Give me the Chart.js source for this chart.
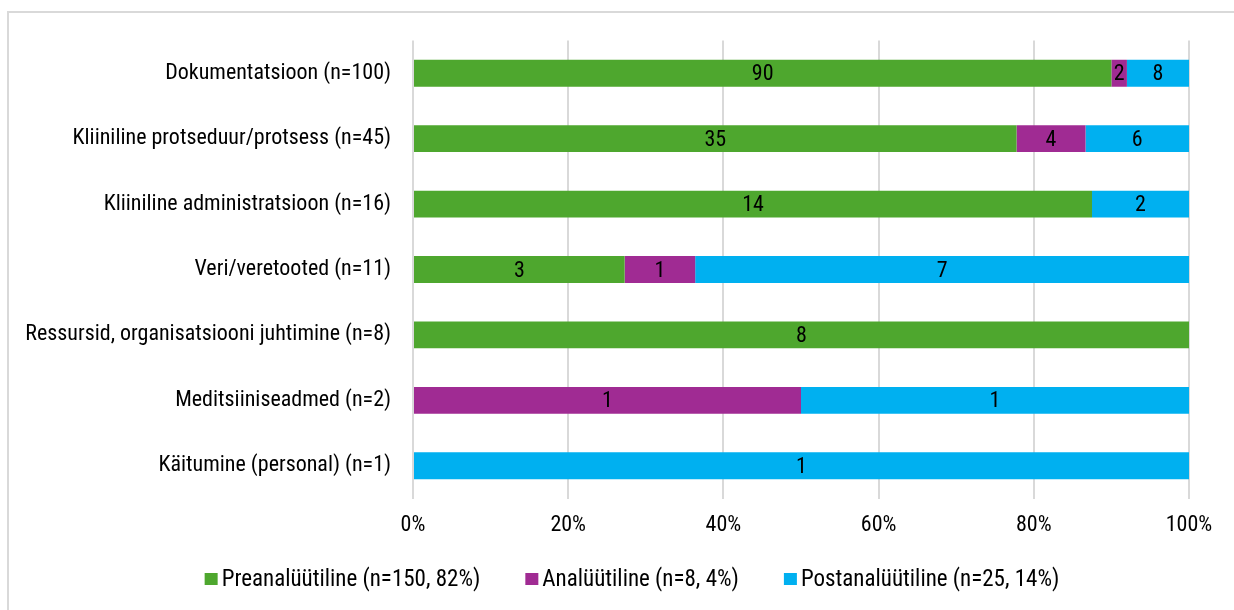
<!DOCTYPE html>
<html>
<head>
<meta charset="utf-8">
<script src="https://cdn.jsdelivr.net/npm/chart.js@4"></script>
<style>
  html, body { margin: 0; padding: 0; background: #fff; overflow: hidden; }
  #frame { position: absolute; left: 7px; top: 11px; width: 1300px; height: 700px; border: 2px solid #d9d9d9; box-sizing: border-box; }
  #wrap { position: absolute; left: 0; top: 0; width: 1234px; height: 610px; }
</style>
</head>
<body>
<div id="frame"></div>
<div id="wrap"><canvas id="c" width="1234" height="610"></canvas></div>
<script>
const categories = [
  'Dokumentatsioon (n=100)',
  'Kliiniline protseduur/protsess (n=45)',
  'Kliiniline administratsioon (n=16)',
  'Veri/veretooted (n=11)',
  'Ressursid, organisatsiooni juhtimine (n=8)',
  'Meditsiiniseadmed (n=2)',
  'Käitumine (personal) (n=1)'
];
const preanalytic  = [90, 35, 14, 3, 8, 0, 0];
const analytic     = [2, 4, 0, 1, 0, 1, 0];
const postanalytic = [8, 6, 2, 7, 0, 1, 1];
const seriesNames = [
  'Preanalüütiline (n=150, 82%)',
  'Analüütiline (n=8, 4%)',
  'Postanalüütiline (n=25, 14%)'
];
const seriesColors = ['#4EA72E', '#A02B93', '#00B0F0'];
const xTicks = ['0%', '20%', '40%', '60%', '80%', '100%'];

const FONT = '"Roboto Condensed", Roboto, "Liberation Sans", sans-serif';
const FS = 22;

const counts = [preanalytic, analytic, postanalytic];
const totals = categories.map((_, i) => counts.reduce((s, a) => s + a[i], 0));
const datasets = counts.map((arr, k) => ({
  label: seriesNames[k],
  data: arr.map((v, i) => v / totals[i] * 100),
  counts: arr,
  backgroundColor: seriesColors[k],
  borderWidth: 0,
  barPercentage: 0.41,
  categoryPercentage: 1.0
}));

const labelPlugin = {
  id: 'segLabels',
  afterDatasetsDraw(chart) {
    const ctx = chart.ctx;
    ctx.save();
    ctx.font = FS + 'px ' + FONT;
    ctx.fillStyle = '#000';
    ctx.textAlign = 'center';
    ctx.textBaseline = 'middle';
    chart.data.datasets.forEach((ds, di) => {
      const meta = chart.getDatasetMeta(di);
      meta.data.forEach((el, i) => {
        const c = ds.counts[i];
        if (!c) return;
        const x = (el.x + el.base) / 2;
        ctx.fillText(String(c), x, el.y + 1.5);
      });
    });
    ctx.restore();
  }
};

const legendPlugin = {
  id: 'customLegend',
  afterDraw(chart) {
    const ctx = chart.ctx;
    ctx.save();
    ctx.font = '23px ' + FONT;
    ctx.textBaseline = 'middle';
    ctx.textAlign = 'left';
    const box = 12, gapText = 5, gapItem = 45;
    const ds = chart.data.datasets;
    const widths = ds.map(d => box + gapText + ctx.measureText(d.label).width);
    const total = widths.reduce((a, b) => a + b, 0) + gapItem * (ds.length - 1);
    let x = 632 - total / 2;
    const y = 579;
    ds.forEach((d, i) => {
      ctx.fillStyle = d.backgroundColor;
      ctx.fillRect(x, y - 6, box + 1, box);
      ctx.fillStyle = '#000';
      ctx.fillText(d.label, x + box + gapText, y + 1);
      x += widths[i] + gapItem;
    });
    ctx.restore();
  }
};

new Chart(document.getElementById('c'), {
  type: 'bar',
  data: { labels: categories, datasets },
  options: {
    indexAxis: 'y',
    responsive: false,
    animation: false,
    layout: { padding: { left: 0, right: 45, top: 40.5, bottom: 62 } },
    plugins: {
      legend: { display: false },
      tooltip: { enabled: false }
    },
    scales: {
      x: {
        stacked: true,
        min: 0,
        max: 100,
        afterFit(s) { s.height = 49.5; },
        afterBuildTicks(s) { s.ticks = xTicks.map((_, i) => ({ value: i * 20 })); },
        ticks: {
          color: '#000',
          font: { family: FONT, size: FS },
          padding: 14,
          maxRotation: 0,
          callback: (v) => xTicks[Math.round(v / 20)]
        },
        grid: { color: '#d9d9d9', lineWidth: 2, drawTicks: false },
        border: { display: false }
      },
      y: {
        stacked: true,
        afterFit(s) { s.width = 413; },
        ticks: {
          color: '#000',
          font: { family: FONT, size: FS },
          padding: 22
        },
        grid: { display: false, drawTicks: false },
        border: { display: false }
      }
    }
  },
  plugins: [labelPlugin, legendPlugin]
});
</script>
</body>
</html>
